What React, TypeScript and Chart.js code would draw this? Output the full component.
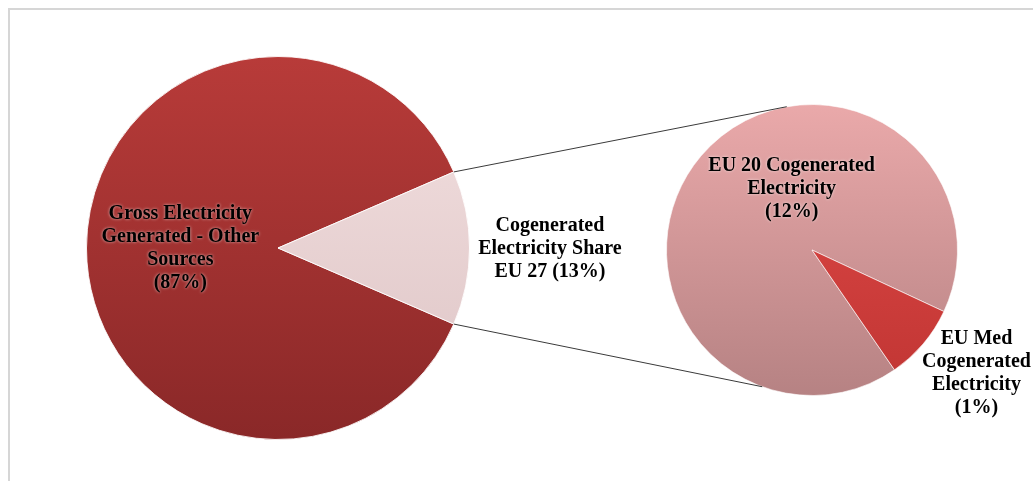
import React, { useEffect, useRef } from "react";
import { Chart, registerables } from "chart.js";

Chart.register(...registerables);

// ---- data ----
const mainCategories = [
  "Gross Electricity Generated - Other Sources",
  "Cogenerated Electricity Share EU 27",
];
const mainValues = [87, 13];
const mainLabelLines = [
  ["Gross Electricity", "Generated - Other", "Sources", "(87%)"],
  ["Cogenerated", "Electricity Share", "EU 27 (13%)"],
];

const detailCategories = [
  "EU 20 Cogenerated Electricity",
  "EU Med Cogenerated Electricity",
];
const detailValues = [11.9, 1.1];
const detailLabelLines = [
  ["EU 20 Cogenerated", "Electricity", "(12%)"],
  ["EU Med", "Cogenerated", "Electricity", "(1%)"],
];

// ---- style ----
const W = 1025;
const H = 473;
const FONT = 'bold 20px "Liberation Serif", "Times New Roman", serif';
const LINE_H = 23;

const mainColors = [
  ["#b83b39", "#8a2828"],
  ["#f4e1e1", "#dcc3c4"],
];
const detailColors = [
  ["#eaa9aa", "#b68283"],
  ["#e34b49", "#c03533"],
];

type Place = { mode: "mid" | "center"; dist?: number; fx?: number; fy?: number; dx?: number; dy?: number };

const mainPlaces: Place[] = [
  { mode: "mid", dist: 0.51, dx: 0, dy: 0.5 },
  { mode: "mid", dist: 1.42, dx: 0, dy: 0.5 },
];
const detailPlaces: Place[] = [
  { mode: "center", fx: -0.14, fy: -0.42 },
  { mode: "mid", dist: 1.4, dx: 9, dy: -8 },
];

function gradFill(colors: string[][]) {
  return (c: any) => {
    const chart = c.chart;
    const area = chart.chartArea;
    const pair = colors[c.dataIndex % colors.length];
    if (!area) return pair[0];
    const g = chart.ctx.createLinearGradient(0, area.top, 0, area.bottom);
    g.addColorStop(0, pair[0]);
    g.addColorStop(1, pair[1]);
    return g;
  };
}

function labelPlugin(lines: string[][], places: Place[]) {
  return {
    id: "sliceLabels",
    afterDatasetsDraw(chart: any) {
      const meta = chart.getDatasetMeta(0);
      const ctx = chart.ctx;
      ctx.save();
      ctx.font = FONT;
      ctx.textAlign = "center";
      ctx.textBaseline = "middle";
      ctx.fillStyle = "#000";
      ctx.shadowColor = "rgba(255,255,255,0.7)";
      ctx.shadowBlur = 3;
      meta.data.forEach((arc: any, i: number) => {
        const p = arc.getProps(["x", "y", "startAngle", "endAngle", "outerRadius"], true);
        const pl = places[i];
        let cx: number, cy: number;
        if (pl.mode === "mid") {
          const mid = (p.startAngle + p.endAngle) / 2;
          cx = p.x + Math.cos(mid) * p.outerRadius * (pl.dist || 0);
          cy = p.y + Math.sin(mid) * p.outerRadius * (pl.dist || 0);
        } else {
          cx = p.x + p.outerRadius * (pl.fx || 0);
          cy = p.y + p.outerRadius * (pl.fy || 0);
        }
        cx += pl.dx || 0;
        cy += pl.dy || 0;
        const ls = lines[i];
        const y0 = cy - ((ls.length - 1) * LINE_H) / 2;
        ls.forEach((t, k) => ctx.fillText(t, cx, y0 + k * LINE_H));
      });
      ctx.restore();
    },
  };
}

// connector end angles on the detail pie (degrees, canvas convention)
const CONNECT_TOP_DEG = 260;
const CONNECT_BOTTOM_DEG = 110;

export default function App() {
  const leftRef = useRef<HTMLCanvasElement>(null);
  const rightRef = useRef<HTMLCanvasElement>(null);

  useEffect(() => {
    document.body.style.overflow = "hidden";
    const left = new Chart(leftRef.current as HTMLCanvasElement, {
      type: "pie",
      data: {
        labels: mainCategories,
        datasets: [
          {
            data: mainValues,
            backgroundColor: gradFill(mainColors) as any,
            borderColor: "rgba(255,255,255,0.85)",
            borderWidth: 1,
          },
        ],
      },
      options: {
        responsive: false,
        animation: false,
        rotation: 113.4,
        layout: { padding: { left: 78, right: W - 462, top: 48, bottom: H - 432 } },
        plugins: { legend: { display: false }, tooltip: { enabled: false } },
      },
      plugins: [labelPlugin(mainLabelLines, mainPlaces)],
    });

    const connector = {
      id: "connector",
      afterDraw(chart: any) {
        const lm = left.getDatasetMeta(0);
        const small: any = lm.data[1];
        const sp = small.getProps(["x", "y", "startAngle", "endAngle", "outerRadius"], true);
        const rm: any = chart.getDatasetMeta(0).data[0];
        const rp = rm.getProps(["x", "y", "outerRadius"], true);
        const ctx = chart.ctx;
        const a1 = (CONNECT_TOP_DEG * Math.PI) / 180;
        const a2 = (CONNECT_BOTTOM_DEG * Math.PI) / 180;
        ctx.save();
        ctx.strokeStyle = "#3a3a3a";
        ctx.lineWidth = 1;
        ctx.beginPath();
        ctx.moveTo(sp.x + Math.cos(sp.startAngle) * sp.outerRadius, sp.y + Math.sin(sp.startAngle) * sp.outerRadius);
        ctx.lineTo(rp.x + Math.cos(a1) * rp.outerRadius, rp.y + Math.sin(a1) * rp.outerRadius);
        ctx.moveTo(sp.x + Math.cos(sp.endAngle) * sp.outerRadius, sp.y + Math.sin(sp.endAngle) * sp.outerRadius);
        ctx.lineTo(rp.x + Math.cos(a2) * rp.outerRadius, rp.y + Math.sin(a2) * rp.outerRadius);
        ctx.stroke();
        ctx.restore();
      },
    };

    const right = new Chart(rightRef.current as HTMLCanvasElement, {
      type: "pie",
      data: {
        labels: detailCategories,
        datasets: [
          {
            data: detailValues,
            backgroundColor: gradFill(detailColors) as any,
            borderColor: "rgba(255,255,255,0.6)",
            borderWidth: 1,
          },
        ],
      },
      options: {
        responsive: false,
        animation: false,
        rotation: 145.46,
        layout: { padding: { left: 658, right: W - 950, top: 96, bottom: H - 388 } },
        plugins: { legend: { display: false }, tooltip: { enabled: false } },
      },
      plugins: [connector, labelPlugin(detailLabelLines, detailPlaces)],
    });

    return () => {
      right.destroy();
      left.destroy();
    };
  }, []);

  return (
    <div
      style={{
        position: "fixed",
        left: 8,
        top: 8,
        width: W,
        height: H,
        overflow: "hidden",
        background: "#fff",
      }}
    >
      <div
        style={{
          position: "absolute",
          left: 0,
          top: 0,
          width: 1200,
          height: 700,
          border: "2px solid #d6d6d6",
          boxSizing: "border-box",
        }}
      />
      <canvas
        ref={leftRef}
        width={W}
        height={H}
        style={{ position: "absolute", left: 0, top: 0, width: W, height: H }}
      />
      <canvas
        ref={rightRef}
        width={W}
        height={H}
        style={{ position: "absolute", left: 0, top: 0, width: W, height: H }}
      />
    </div>
  );
}
